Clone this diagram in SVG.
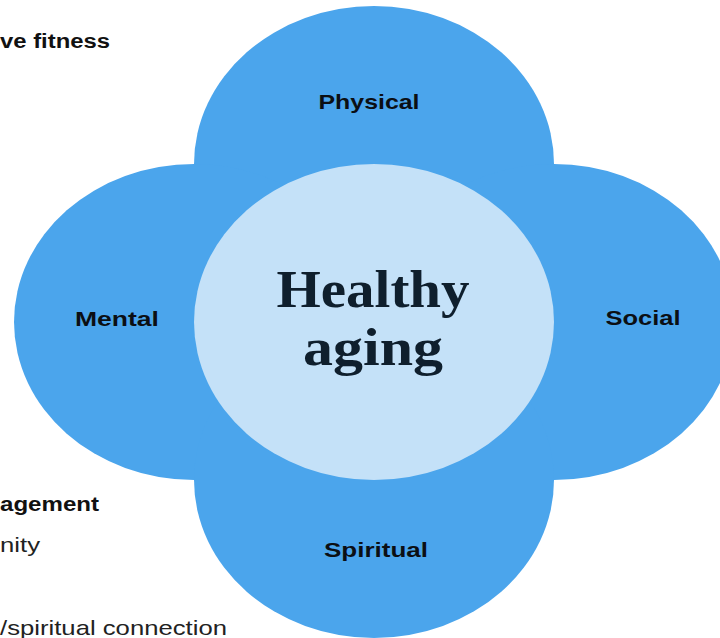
<svg xmlns="http://www.w3.org/2000/svg" width="720" height="638" viewBox="0 0 720 638">
  <style>
    .petal { fill: #4BA5EC; }
    .core { fill: #C4E1F8; }
    .label { font-family: "Liberation Sans", Arial, sans-serif; font-weight: 700; font-size: 21px; fill: #0B0F14; }
    .title { font-family: "Liberation Serif", "Times New Roman", serif; font-weight: 700; font-size: 52px; fill: #0F1F2D; }
    .side-b { font-family: "Liberation Sans", Arial, sans-serif; font-weight: 700; font-size: 20px; fill: #111; }
    .side { font-family: "Liberation Sans", Arial, sans-serif; font-weight: 400; font-size: 21px; fill: #222; }
  </style>

  <rect width="720" height="638" fill="#FFFFFF"/>

  <!-- side notes, running in from the left edge -->
  <g id="notes">
    <text class="side-b" x="0" y="48" textLength="110" lengthAdjust="spacingAndGlyphs">ve fitness</text>
    <text class="side-b" x="0" y="511" textLength="99" lengthAdjust="spacingAndGlyphs">agement</text>
    <text class="side" x="0" y="552" textLength="40" lengthAdjust="spacingAndGlyphs">nity</text>
    <text class="side" x="0" y="635" textLength="227" lengthAdjust="spacingAndGlyphs">/spiritual connection</text>
  </g>

  <!-- four petals -->
  <g id="physical">
    <ellipse class="petal" cx="374" cy="164" rx="180" ry="158"/>
    <text class="label" x="369" y="109" text-anchor="middle" textLength="101" lengthAdjust="spacingAndGlyphs">Physical</text>
  </g>
  <g id="mental">
    <ellipse class="petal" cx="194" cy="322" rx="180" ry="158"/>
  </g>
  <g id="social">
    <ellipse class="petal" cx="554" cy="322" rx="180" ry="158"/>
  </g>
  <g id="spiritual">
    <ellipse class="petal" cx="374" cy="480" rx="180" ry="158"/>
    <text class="label" x="376" y="557" text-anchor="middle" textLength="104" lengthAdjust="spacingAndGlyphs">Spiritual</text>
  </g>

  <!-- labels that sit over neighbouring petals -->
  <text class="label" x="117" y="326" text-anchor="middle" textLength="84" lengthAdjust="spacingAndGlyphs">Mental</text>
  <text class="label" x="643" y="325" text-anchor="middle" textLength="75" lengthAdjust="spacingAndGlyphs">Social</text>

  <!-- centre -->
  <g id="healthy-aging">
    <ellipse class="core" cx="374" cy="322" rx="180" ry="158"/>
    <text class="title" x="373" y="307" text-anchor="middle" textLength="193" lengthAdjust="spacingAndGlyphs">Healthy</text>
    <text class="title" x="373" y="365" text-anchor="middle" textLength="140" lengthAdjust="spacingAndGlyphs">aging</text>
  </g>

  <g id="connectors"/>
</svg>
